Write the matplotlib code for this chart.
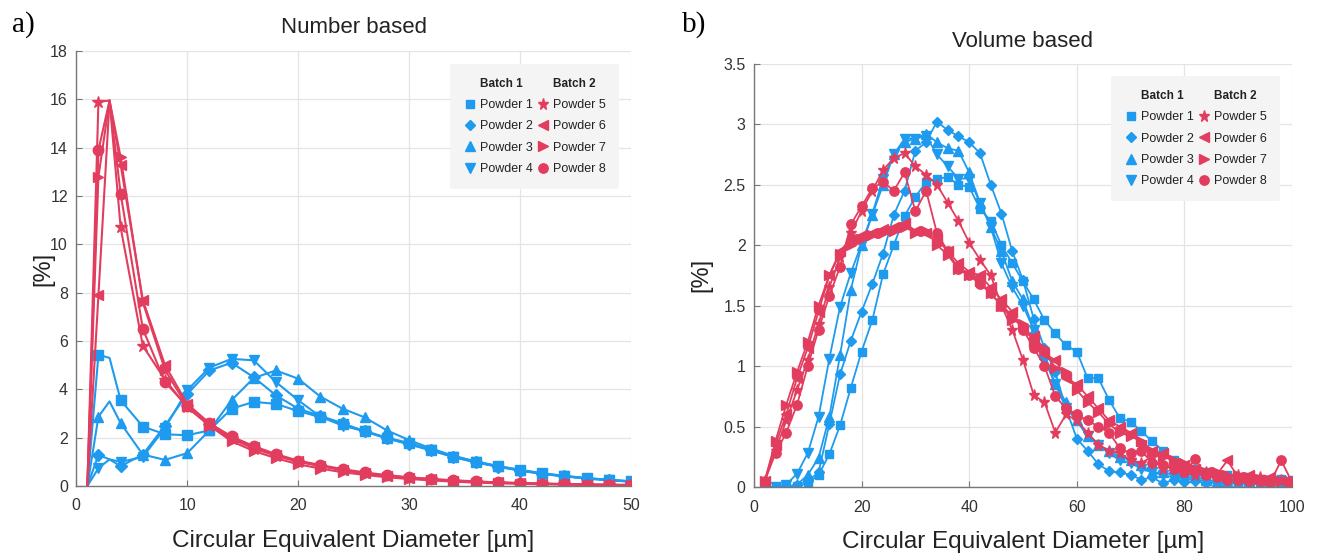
import matplotlib.pyplot as plt
from matplotlib.lines import Line2D
from matplotlib.ticker import FuncFormatter

plt.rcParams['font.family'] = ['Liberation Sans', 'DejaVu Sans']

blue = '#1E9BEF'
red = '#E23D5E'

# ---- a) number based ----
d_num = [1, 2, 3, 4, 6, 8, 10, 12, 14, 16, 18, 20, 22, 24, 26, 28, 30,
         32, 34, 36, 38, 40, 42, 44, 46, 48, 50]
num_p1 = [0, 5.43, 5.3, 3.55, 2.46, 2.14, 2.1, 2.3, 3.2, 3.48, 3.4, 3.1, 2.85, 2.55,
          2.28, 2.0, 1.78, 1.5, 1.22, 1.0, 0.82, 0.66, 0.52, 0.41, 0.32, 0.25, 0.19]
num_p2 = [0, 1.29, 1.1, 0.82, 1.3, 2.5, 3.8, 4.78, 5.1, 4.5, 3.75, 3.2, 2.9, 2.6,
          2.26, 1.97, 1.72, 1.47, 1.2, 0.98, 0.8, 0.64, 0.5, 0.4, 0.31, 0.24, 0.18]
num_p3 = [0, 2.87, 3.5, 2.6, 1.3, 1.08, 1.36, 2.3, 3.55, 4.47, 4.78, 4.44, 3.7, 3.2,
          2.84, 2.3, 1.9, 1.55, 1.25, 1.02, 0.83, 0.67, 0.53, 0.42, 0.33, 0.26, 0.2]
num_p4 = [0, 0.74, 1.1, 1.0, 1.2, 2.4, 3.96, 4.9, 5.26, 5.2, 4.3, 3.55, 2.87, 2.5,
          2.26, 1.97, 1.75, 1.48, 1.2, 0.98, 0.8, 0.64, 0.5, 0.4, 0.31, 0.24, 0.18]
num_p5 = [0, 15.9, 15.95, 10.7, 5.8, 4.4, 3.25, 2.5, 1.95, 1.55, 1.25, 1.0, 0.82, 0.65,
          0.52, 0.42, 0.34, 0.27, 0.22, 0.17, 0.14, 0.11, 0.09, 0.07, 0.06, 0.05, 0.04]
num_p6 = [0, 7.9, 15.95, 13.3, 7.7, 5.0, 3.4, 2.6, 2.0, 1.6, 1.28, 1.02, 0.84, 0.67,
          0.54, 0.43, 0.35, 0.28, 0.22, 0.18, 0.15, 0.12, 0.1, 0.08, 0.06, 0.05, 0.04]
num_p7 = [0, 12.8, 15.95, 13.6, 7.6, 4.8, 3.3, 2.5, 1.85, 1.45, 1.15, 0.9, 0.72, 0.57,
          0.46, 0.36, 0.29, 0.23, 0.18, 0.14, 0.11, 0.09, 0.07, 0.06, 0.05, 0.04, 0.03]
num_p8 = [0, 13.9, 15.95, 12.1, 6.5, 4.3, 3.3, 2.6, 2.05, 1.65, 1.32, 1.05, 0.87, 0.7,
          0.56, 0.45, 0.36, 0.29, 0.24, 0.19, 0.15, 0.12, 0.1, 0.08, 0.06, 0.05, 0.04]

# ---- b) volume based ----
d_vol = list(range(2, 101, 2))
vol_p1 = [0, 0, 0, 0.01, 0.03, 0.1, 0.27, 0.51, 0.82, 1.12, 1.38, 1.76, 2.0, 2.24, 2.4,
          2.52, 2.55, 2.56, 2.5, 2.48, 2.3, 2.2, 2.0, 1.85, 1.7, 1.55, 1.38, 1.27, 1.17, 1.12,
          0.9, 0.9, 0.72, 0.57, 0.54, 0.46, 0.38, 0.3, 0.22, 0.17, 0.15, 0.12, 0.1, 0.1, 0.08,
          0.08, 0.07, 0.06, 0.07, 0.06]
vol_p2 = [0, 0, 0, 0.02, 0.05, 0.12, 0.52, 0.93, 1.21, 1.45, 1.68, 1.93, 2.25, 2.45, 2.78,
          2.85, 3.02, 2.95, 2.9, 2.85, 2.76, 2.5, 2.26, 1.95, 1.71, 1.39, 1.15, 0.95, 0.65, 0.4,
          0.3, 0.19, 0.13, 0.12, 0.1, 0.06, 0.08, 0.03, 0.06, 0.04, 0.05, 0.03, 0.04, 0.03, 0.03,
          0.02, 0.03, 0.02, 0.01, 0.02]
vol_p3 = [0, 0, 0, 0.02, 0.1, 0.24, 0.58, 1.09, 1.63, 2.0, 2.25, 2.5, 2.75, 2.85, 2.88,
          2.92, 2.85, 2.8, 2.78, 2.6, 2.35, 2.15, 1.95, 1.7, 1.55, 1.3, 1.1, 0.85, 0.7, 0.55,
          0.42, 0.35, 0.3, 0.25, 0.22, 0.18, 0.12, 0.12, 0.1, 0.08, 0.08, 0.06, 0.05, 0.05, 0.04,
          0.04, 0.03, 0.03, 0.03, 0.03]
vol_p4 = [0, 0, 0.02, 0.11, 0.28, 0.58, 1.06, 1.49, 1.77, 2.01, 2.26, 2.55, 2.75, 2.88, 2.88,
          2.9, 2.75, 2.65, 2.55, 2.55, 2.35, 2.15, 1.85, 1.65, 1.5, 1.3, 1.05, 0.85, 0.65, 0.55,
          0.42, 0.35, 0.28, 0.22, 0.2, 0.15, 0.12, 0.1, 0.08, 0.07, 0.06, 0.05, 0.05, 0.04, 0.04,
          0.03, 0.03, 0.03, 0.02, 0.02]
vol_p5 = [0.05, 0.3, 0.55, 0.8, 1.05, 1.35, 1.65, 1.9, 2.1, 2.28, 2.45, 2.62, 2.72, 2.76, 2.65,
          2.58, 2.5, 2.35, 2.2, 2.02, 1.88, 1.75, 1.5, 1.3, 1.05, 0.76, 0.7, 0.45, 0.6, 0.55,
          0.45, 0.35, 0.3, 0.28, 0.22, 0.2, 0.25, 0.15, 0.18, 0.12, 0.1, 0.12, 0.1, 0.08, 0.1,
          0.06, 0.08, 0.05, 0.06, 0.04]
vol_p6 = [0.05, 0.35, 0.6, 0.9, 1.15, 1.45, 1.75, 1.95, 2.05, 2.08, 2.1, 2.13, 2.15, 2.18, 2.12,
          2.1, 2.05, 1.95, 1.85, 1.78, 1.75, 1.65, 1.55, 1.45, 1.3, 1.25, 1.1, 1.05, 0.9, 0.85,
          0.75, 0.65, 0.55, 0.5, 0.45, 0.35, 0.3, 0.28, 0.2, 0.18, 0.15, 0.12, 0.1, 0.22, 0.08,
          0.1, 0.06, 0.08, 0.05, 0.04]
vol_p7 = [0.05, 0.38, 0.68, 0.95, 1.2, 1.5, 1.75, 1.93, 2.0, 2.05, 2.08, 2.1, 2.12, 2.15, 2.1,
          2.12, 2.0, 1.92, 1.8, 1.75, 1.7, 1.6, 1.5, 1.38, 1.35, 1.2, 1.15, 0.98, 0.95, 0.8,
          0.7, 0.62, 0.52, 0.45, 0.42, 0.38, 0.3, 0.25, 0.22, 0.2, 0.15, 0.12, 0.12, 0.1, 0.1,
          0.08, 0.07, 0.06, 0.05, 0.04]
vol_p8 = [0.05, 0.28, 0.45, 0.68, 1.0, 1.3, 1.58, 1.82, 2.17, 2.32, 2.47, 2.52, 2.45, 2.6, 2.28,
          2.45, 2.1, 1.95, 1.8, 1.75, 1.68, 1.6, 1.5, 1.42, 1.3, 1.15, 1.0, 0.75, 0.65, 0.6,
          0.55, 0.5, 0.45, 0.32, 0.28, 0.3, 0.2, 0.18, 0.15, 0.12, 0.23, 0.1, 0.08, 0.06, 0.06,
          0.05, 0.05, 0.04, 0.22, 0.04]

labels = ['Powder 1', 'Powder 2', 'Powder 3', 'Powder 4',
          'Powder 5', 'Powder 6', 'Powder 7', 'Powder 8']
markers = ['s', 'D', '^', 'v', '*', '<', '>', 'o']
colors = [blue] * 4 + [red] * 4
msizes = [6.5, 6, 7.5, 7.5, 9, 7.5, 7.5, 7.5]

num_series = [num_p1, num_p2, num_p3, num_p4, num_p5, num_p6, num_p7, num_p8]
vol_series = [vol_p1, vol_p2, vol_p3, vol_p4, vol_p5, vol_p6, vol_p7, vol_p8]

fig = plt.figure(figsize=(13.17, 5.56), dpi=100)
ax1 = fig.add_axes([0.0579, 0.1259, 0.4212, 0.7824])
ax2 = fig.add_axes([0.5725, 0.1241, 0.4085, 0.7615])

# no marker on x=1 and x=3 points
mk_num = [1] + list(range(3, len(d_num)))
for y, m, c, ms in zip(num_series, markers, colors, msizes):
    ax1.plot(d_num, y, color=c, marker=m, markersize=ms, lw=1.5, markevery=mk_num)
for y, m, c, ms in zip(vol_series, markers, colors, msizes):
    ax2.plot(d_vol, y, color=c, marker=m, markersize=ms * 0.9, lw=1.3)

ax1.set_xlim(0, 50)
ax1.set_ylim(0, 18)
ax1.set_xticks(range(0, 51, 10))
ax1.set_yticks(range(0, 19, 2))
ax2.set_xlim(0, 100)
ax2.set_ylim(0, 3.5)
ax2.set_xticks(range(0, 101, 20))
ax2.set_yticks([0, 0.5, 1, 1.5, 2, 2.5, 3, 3.5])
ax2.yaxis.set_major_formatter(FuncFormatter(lambda v, p: f'{v:g}'))

for ax, title, pad, ypad in [(ax1, 'Number based', 13, -3), (ax2, 'Volume based', 12, 8)]:
    ax.set_title(title, fontsize=16, pad=pad, color='#222222')
    ax.set_xlabel('Circular Equivalent Diameter [µm]', fontsize=17.5, labelpad=12, color='#222222')
    ax.set_ylabel('[%]', fontsize=17, labelpad=ypad, color='#222222')
    ax.grid(True, color='#e4e4e4', lw=0.9)
    ax.set_axisbelow(True)
    for s in ['top', 'right']:
        ax.spines[s].set_visible(False)
    for s in ['left', 'bottom']:
        ax.spines[s].set_color('#777777')
        ax.spines[s].set_linewidth(1.0)
    ax.tick_params(direction='in', length=4, color='#777777', labelsize=11.5,
                   labelcolor='#333333')
    ax.tick_params(axis='x', pad=9)
    ax.tick_params(axis='y', pad=6)

    handles = [Line2D([], [], linestyle='none')]
    handles += [Line2D([], [], linestyle='none', marker=m, color=c, markersize=ms * 0.9)
                for m, c, ms in zip(markers[:4], colors[:4], msizes[:4])]
    handles += [Line2D([], [], linestyle='none')]
    handles += [Line2D([], [], linestyle='none', marker=m, color=c, markersize=ms * 0.9)
                for m, c, ms in zip(markers[4:], colors[4:], msizes[4:])]
    leg_labels = ['Batch 1'] + labels[:4] + ['Batch 2'] + labels[4:]
    leg = ax.legend(handles, leg_labels, ncol=2, loc='upper right',
                    bbox_to_anchor=(0.99, 0.985), fontsize=9, frameon=True,
                    facecolor='#f4f4f4', edgecolor='none', framealpha=1,
                    handlelength=1.0, handletextpad=0.3, columnspacing=0.3,
                    labelspacing=0.75, borderpad=1.1)
    for t in leg.get_texts():
        t.set_color('#222222')
        if t.get_text().startswith('Batch'):
            t.set_fontweight('bold')
            t.set_fontsize(8.5)

fig.text(0.009, 0.955, 'a)', fontsize=21, family='Liberation Serif', va='center')
fig.text(0.518, 0.955, 'b)', fontsize=21, family='Liberation Serif', va='center')

fig.savefig('out.png', dpi=100)
